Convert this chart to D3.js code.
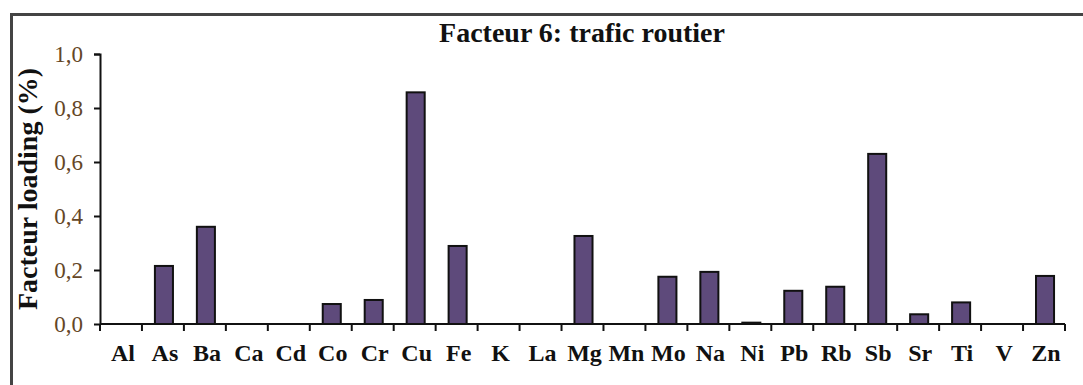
<!DOCTYPE html>
<html>
<head>
<meta charset="utf-8">
<script src="https://cdn.jsdelivr.net/npm/d3@7"></script>
<style>
  html, body { margin: 0; padding: 0; background: #fff; }
  svg { display: block; }
</style>
</head>
<body>
<svg id="chart" width="1083" height="385"></svg>
<script>
// Element symbols and their loadings on factor 6 (road traffic)
const elements = ["Al","As","Ba","Ca","Cd","Co","Cr","Cu","Fe","K","La","Mg","Mn","Mo","Na","Ni","Pb","Rb","Sb","Sr","Ti","V","Zn"];
const loadings = [0, 0.215, 0.36, 0, 0, 0.074, 0.089, 0.858, 0.289, 0, 0, 0.326, 0, 0.175, 0.193, 0.005, 0.123, 0.138, 0.63, 0.036, 0.08, 0, 0.178];
const yTicks = [0, 0.2, 0.4, 0.6, 0.8, 1.0];
const titleText = "Facteur 6: trafic routier";
const yLabel = "Facteur loading (%)";

const svg = d3.select("#chart");
const serif = "'Liberation Serif', 'Times New Roman', serif";

const margin = { left: 100, top: 54 };
const W = 1083, H = 385;
const plotW = 965, plotH = 270;

// Outer frame (top and left edges visible)
svg.append("path")
  .attr("d", `M11.5,${H} L11.5,14.5 L${W},14.5`)
  .attr("fill", "none")
  .attr("stroke", "#444")
  .attr("stroke-width", 3);

const g = svg.append("g").attr("transform", `translate(${margin.left},${margin.top})`);

const x = d3.scaleBand().domain(elements).range([0, plotW]).paddingInner(0).paddingOuter(0);
const y = d3.scaleLinear().domain([0, 1]).range([plotH, 0]);

const data = elements.map((e, i) => ({ e, v: loadings[i] }));
const barW = x.bandwidth() * 0.43;

g.selectAll("rect.bar")
  .data(data.filter(d => d.v > 0))
  .join("rect")
  .attr("class", "bar")
  .attr("x", d => x(d.e) + x.bandwidth() / 2 - barW / 2 + 1)
  .attr("y", d => y(d.v))
  .attr("width", barW)
  .attr("height", d => y(0) - y(d.v))
  .attr("fill", "#5e4a7b")
  .attr("stroke", "#111")
  .attr("stroke-width", 2);

// Y axis
const yAxis = g.append("g")
  .call(d3.axisLeft(y).tickValues(yTicks).tickSize(6).tickPadding(11)
    .tickFormat(d => d3.format(".1f")(d).replace(".", ",")));
yAxis.select(".domain").attr("stroke", "#111").attr("stroke-width", 2).attr("d", `M-6,0.5H0.5V${plotH}`);
yAxis.selectAll(".tick line").attr("stroke", "#111").attr("stroke-width", 2);
yAxis.selectAll(".tick text")
  .attr("font-family", serif)
  .attr("font-size", 23)
  .attr("fill", "#644626");

// X axis with ticks at category boundaries
const xg = g.append("g").attr("transform", `translate(0,${plotH})`);
xg.append("line")
  .attr("x1", 0).attr("x2", plotW).attr("y1", 0).attr("y2", 0)
  .attr("stroke", "#111").attr("stroke-width", 2);
const bounds = elements.map(e => x(e)).concat([plotW]);
xg.selectAll("line.tk")
  .data(bounds)
  .join("line")
  .attr("class", "tk")
  .attr("x1", d => d).attr("x2", d => d)
  .attr("y1", 0).attr("y2", 7)
  .attr("stroke", "#111").attr("stroke-width", 2);
xg.selectAll("text.lbl")
  .data(elements)
  .join("text")
  .attr("class", "lbl")
  .attr("x", d => x(d) + x.bandwidth() / 2 + 2)
  .attr("y", 37)
  .attr("text-anchor", "middle")
  .attr("font-family", serif)
  .attr("font-weight", "bold")
  .attr("font-size", 24)
  .attr("fill", "#111")
  .text(d => d);

// Title
svg.append("text")
  .attr("x", 582)
  .attr("y", 42)
  .attr("text-anchor", "middle")
  .attr("font-family", serif)
  .attr("font-weight", "bold")
  .attr("font-size", 28)
  .attr("fill", "#111")
  .text(titleText);

// Y axis title
svg.append("text")
  .attr("transform", `translate(37,189) rotate(-90)`)
  .attr("text-anchor", "middle")
  .attr("font-family", serif)
  .attr("font-weight", "bold")
  .attr("font-size", 28)
  .attr("fill", "#111")
  .text(yLabel);
</script>
</body>
</html>
